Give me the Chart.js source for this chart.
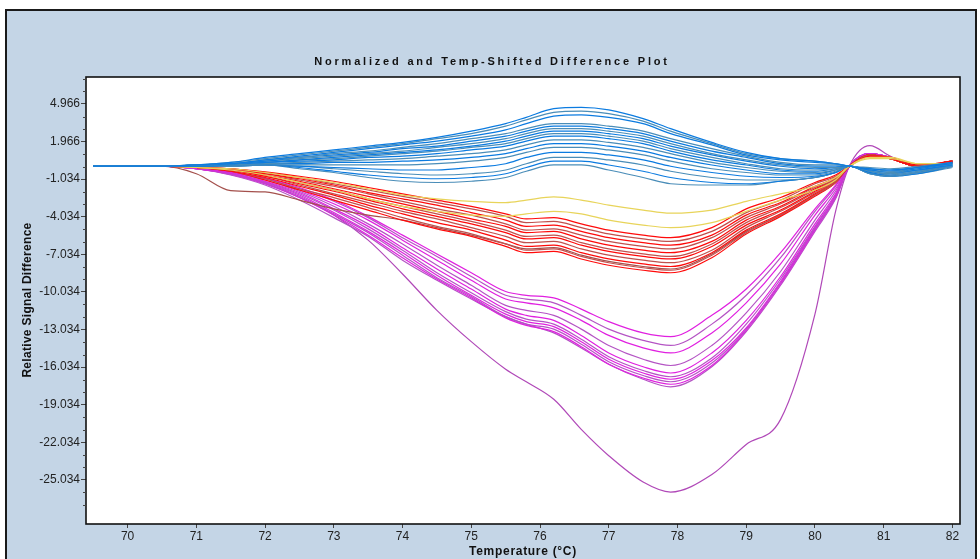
<!DOCTYPE html>
<html>
<head>
<meta charset="utf-8">
<script src="https://cdn.jsdelivr.net/npm/chart.js@4.4.1/dist/chart.umd.min.js"></script>
<style>
  html, body { margin: 0; padding: 0; width: 980px; height: 559px; overflow: hidden; background: #fff; }
  #frame { position: absolute; left: 5px; top: 9px; width: 968px; height: 600px;
           border: 2px solid #1a1a1a; background: #c4d5e6; }
  #plot { position: absolute; left: 0; top: 0; }
</style>
</head>
<body>
<div id="frame"></div>
<canvas id="plot" width="980" height="559"></canvas>
<script>
/* Normalized and Temp-Shifted Difference Plot (HRM difference curves). */

const TITLE = 'Normalized and Temp-Shifted Difference Plot';
const X_TITLE = 'Temperature (°C)';
const Y_TITLE = 'Relative Signal Difference';

const TEMPS = [69.5, 70, 70.5, 71, 71.5, 72, 72.5, 73, 73.5, 74, 74.5, 75, 75.5, 75.8, 76.2,
               76.6, 77, 77.5, 77.9, 78.5, 79, 79.5, 80, 80.3, 80.5, 80.8, 81.1, 81.5, 82];

const X_TICKS = [70, 71, 72, 73, 74, 75, 76, 77, 78, 79, 80, 81, 82];
const Y_TICKS = [4.966, 1.966, -1.034, -4.034, -7.034, -10.034, -13.034, -16.034, -19.034, -22.034, -25.034];
const Y_TICK_LABELS = ['4.966', '1.966', '-1.034', '-4.034', '-7.034', '-10.034', '-13.034',
                       '-16.034', '-19.034', '-22.034', '-25.034'];

/* blue cluster */
const blue1  = [0,0,0,0.1,0.3,0.7,1.0,1.3,1.6,1.9,2.3,2.8,3.4,3.9,4.6,4.7,4.5,3.8,3.0,1.9,1.1,0.6,0.4,0.2,0,-0.2,-0.3,-0.1,0.3];
const blue2  = [0,0,0,0.1,0.3,0.6,0.9,1.2,1.5,1.8,2.2,2.6,3.2,3.7,4.3,4.4,4.2,3.6,2.8,1.8,1.0,0.6,0.4,0.2,0,-0.1,-0.2,0,0.3];
const blue3  = [0,0,0,0.1,0.2,0.5,0.8,1.1,1.4,1.7,2.0,2.4,2.9,3.4,4.0,4.1,3.9,3.4,2.6,1.7,0.9,0.5,0.3,0.2,0,-0.2,-0.3,-0.1,0.2];
const blue4  = [0,0,0,0.1,0.2,0.5,0.7,1.0,1.2,1.5,1.8,2.2,2.6,3.0,3.4,3.4,3.2,2.8,2.2,1.4,0.8,0.3,0.1,0.1,0,-0.2,-0.4,-0.1,0.2];
const blue5  = [0,0,0,0.1,0.2,0.4,0.7,0.9,1.1,1.4,1.6,2.0,2.4,2.8,3.2,3.2,3.0,2.6,2.0,1.2,0.7,0.2,0.0,0.0,0,-0.3,-0.4,-0.2,0.2];
const blue6  = [0,0,0,0.1,0.2,0.4,0.6,0.8,1.0,1.2,1.5,1.8,2.2,2.6,3.0,3.0,2.8,2.4,1.8,1.0,0.5,0.1,-0.1,-0.1,0,-0.3,-0.5,-0.2,0.2];
const blue7  = [0,0,0,0.1,0.2,0.3,0.5,0.7,0.9,1.1,1.3,1.6,2.0,2.4,2.8,2.8,2.6,2.2,1.6,0.9,0.4,0.0,-0.2,-0.1,0,-0.3,-0.5,-0.3,0.1];
const blue8  = [0,0,0,0.1,0.1,0.3,0.5,0.6,0.8,1.0,1.2,1.5,1.8,2.2,2.6,2.6,2.4,2.0,1.4,0.7,0.2,-0.2,-0.3,-0.2,0,-0.4,-0.6,-0.3,0.1];
const blue9  = [0,0,0,0.0,0.1,0.3,0.4,0.5,0.7,0.8,1.0,1.3,1.6,2.0,2.4,2.4,2.2,1.8,1.2,0.5,0.1,-0.3,-0.4,-0.2,0,-0.4,-0.6,-0.3,0.1];
const blue10 = [0,0,0,0,0.1,0.2,0.3,0.4,0.5,0.6,0.8,1.0,1.3,1.7,2.1,2.1,1.9,1.5,1.0,0.3,-0.1,-0.4,-0.5,-0.3,0,-0.4,-0.7,-0.4,0.1];
const blue11 = [0,0,0,0,0.1,0.2,0.2,0.3,0.3,0.4,0.5,0.7,1.0,1.4,1.8,1.8,1.6,1.2,0.7,0.1,-0.3,-0.6,-0.6,-0.3,0,-0.5,-0.7,-0.4,0.1];
const blue12 = [0,0,0,0,0.1,0.1,0.1,0.1,0.1,0.1,0.2,0.4,0.7,1.1,1.5,1.5,1.3,0.9,0.4,-0.2,-0.5,-0.7,-0.7,-0.4,0,-0.5,-0.8,-0.5,0.0];
const blue13 = [0,0,0,0,0.1,0.1,0.0,-0.1,-0.2,-0.3,-0.3,-0.1,0.2,0.7,1.1,1.1,0.9,0.5,0.0,-0.5,-0.8,-0.9,-0.8,-0.5,0,-0.5,-0.8,-0.5,0.0];
const blue14 = [0,0,0,0,0,0.1,0.0,-0.2,-0.4,-0.6,-0.7,-0.6,-0.3,0.2,0.7,0.7,0.5,0.1,-0.4,-0.9,-1.1,-1.1,-0.9,-0.5,0,-0.6,-0.8,-0.5,0.0];
const blue15 = [0,0,0,0,0,0.1,-0.1,-0.4,-0.7,-0.9,-1.0,-0.9,-0.6,-0.1,0.4,0.4,0.1,-0.4,-0.9,-1.3,-1.4,-1.2,-0.9,-0.5,0,-0.6,-0.8,-0.6,0.0];
const blue16 = [0,0,0,0,0,0.1,-0.2,-0.5,-0.9,-1.2,-1.3,-1.2,-0.9,-0.4,0.1,0.1,-0.3,-0.9,-1.4,-1.5,-1.5,-1.2,-0.9,-0.5,0,-0.6,-0.8,-0.6,-0.1];

/* yellow pair */
const yellow1 = [0,0,0,-0.1,-0.2,-0.5,-0.9,-1.3,-1.8,-2.3,-2.6,-2.8,-2.9,-2.7,-2.45,-2.7,-3.1,-3.5,-3.75,-3.5,-2.8,-2.2,-1.6,-0.9,0,0.6,0.6,0.2,0.2];
const yellow2 = [0,0,0,-0.1,-0.3,-0.7,-1.3,-1.9,-2.6,-3.2,-3.6,-3.9,-4.0,-3.8,-3.6,-3.8,-4.3,-4.7,-4.9,-4.5,-3.6,-2.7,-1.9,-1.1,0,0.7,0.7,0.2,0.2];

/* red cluster */
const red1  = [0,0,0,-0.1,-0.2,-0.45,-0.8,-1.2,-1.7,-2.2,-2.7,-3.2,-3.8,-4.2,-4.1,-4.6,-5.1,-5.5,-5.7,-4.9,-3.4,-2.5,-1.3,-0.7,0,0.8,0.7,0.1,0.4];
const red2  = [0,0,0,-0.1,-0.2,-0.5,-0.9,-1.4,-1.9,-2.4,-2.9,-3.4,-4.0,-4.5,-4.4,-4.9,-5.4,-5.8,-6.0,-5.2,-3.7,-2.7,-1.4,-0.8,0,0.8,0.7,0.1,0.4];
const red3  = [0,0,0,-0.1,-0.2,-0.6,-1.0,-1.5,-2.1,-2.6,-3.1,-3.7,-4.3,-4.8,-4.7,-5.2,-5.7,-6.1,-6.3,-5.5,-3.9,-2.9,-1.6,-0.9,0,0.8,0.7,0.1,0.3];
const red4  = [0,0,0,-0.1,-0.3,-0.6,-1.1,-1.6,-2.2,-2.8,-3.4,-3.9,-4.6,-5.1,-5.0,-5.5,-6.0,-6.4,-6.6,-5.7,-4.1,-3.0,-1.7,-1.0,0,0.9,0.7,0.1,0.3];
const red5  = [0,0,0,-0.1,-0.3,-0.7,-1.2,-1.8,-2.4,-3.0,-3.6,-4.2,-4.8,-5.3,-5.2,-5.8,-6.3,-6.7,-6.9,-6.0,-4.3,-3.2,-1.8,-1.0,0,0.9,0.6,0.0,0.3];
const red6  = [0,0,0,-0.1,-0.3,-0.7,-1.3,-1.9,-2.6,-3.2,-3.8,-4.4,-5.1,-5.6,-5.5,-6.1,-6.6,-7.0,-7.2,-6.2,-4.5,-3.3,-1.9,-1.1,0,0.9,0.6,0.0,0.3];
const red7  = [0,0,0,-0.1,-0.3,-0.8,-1.4,-2.0,-2.7,-3.4,-4.0,-4.6,-5.3,-5.8,-5.7,-6.3,-6.8,-7.2,-7.4,-6.4,-4.7,-3.5,-2.0,-1.1,0,0.9,0.6,0.0,0.4];
const red8  = [0,0,0,-0.1,-0.3,-0.8,-1.5,-2.2,-2.9,-3.6,-4.2,-4.9,-5.6,-6.1,-6.0,-6.6,-7.1,-7.5,-7.7,-6.7,-4.9,-3.6,-2.1,-1.2,0,0.9,0.6,0.0,0.4];
const red9  = [0,0,0,-0.1,-0.4,-0.9,-1.6,-2.3,-3.1,-3.8,-4.5,-5.1,-5.9,-6.4,-6.3,-6.9,-7.4,-7.8,-8.0,-6.9,-5.1,-3.8,-2.2,-1.2,0,0.9,0.6,0.0,0.4];
const red10 = [0,0,0,-0.1,-0.4,-1.0,-1.8,-2.5,-3.3,-4.1,-4.8,-5.4,-6.2,-6.7,-6.6,-7.2,-7.7,-8.1,-8.3,-7.1,-5.3,-3.9,-2.3,-1.3,0,0.9,0.6,0.0,0.4];
const red11 = [0,0,0,-0.1,-0.4,-1.1,-1.9,-2.7,-3.5,-4.3,-5.0,-5.6,-6.4,-6.9,-6.8,-7.4,-7.9,-8.3,-8.5,-7.3,-5.4,-4.0,-2.4,-1.3,0,0.9,0.6,0.0,0.4];
const redEarly = [0,0,0,-0.6,-1.95,-2.05,-2.7,-3.4,-3.9,-4.3,-4.9,-5.5,-6.2,-6.6,-6.5,-7.1,-7.6,-8.0,-8.2,-7.0,-5.2,-3.9,-2.3,-1.3,0,0.9,0.6,0.0,0.4];

/* magenta cluster */
const mag1  = [0,0,0,-0.15,-0.45,-0.95,-1.7,-2.7,-4.0,-5.5,-7.0,-8.5,-10.0,-10.3,-10.5,-11.4,-12.4,-13.3,-13.6,-11.9,-9.8,-6.9,-3.4,-1.5,0,1.0,0.7,0.1,0.3];
const mag2  = [0,0,0,-0.15,-0.45,-1.0,-1.8,-2.8,-4.1,-5.7,-7.2,-8.8,-10.3,-10.6,-10.9,-11.9,-13.0,-13.9,-14.3,-12.6,-10.3,-7.3,-3.6,-1.6,0,1.0,0.7,0.1,0.3];
const mag3  = [0,0,0,-0.15,-0.5,-1.0,-1.9,-3.0,-4.3,-5.9,-7.5,-9.1,-10.6,-10.9,-11.3,-12.3,-13.5,-14.5,-14.9,-13.3,-10.9,-7.8,-3.9,-1.8,0,1.0,0.7,0.1,0.3];
const mag4  = [0,0,0,-0.15,-0.5,-1.1,-2.0,-3.2,-4.6,-6.2,-7.9,-9.5,-11.1,-11.5,-11.9,-13.0,-14.3,-15.4,-15.9,-14.3,-11.7,-8.4,-4.3,-2.0,0,1.0,0.7,0.1,0.3];
const mag5  = [0,0,0,-0.2,-0.55,-1.2,-2.1,-3.4,-4.8,-6.5,-8.2,-9.8,-11.4,-11.9,-12.3,-13.5,-14.9,-16.0,-16.5,-14.9,-12.3,-8.8,-4.6,-2.2,0,1.0,0.7,0.1,0.3];
const mag6  = [0,0,0,-0.2,-0.6,-1.25,-2.2,-3.5,-5.0,-6.7,-8.5,-10.1,-11.6,-12.2,-12.6,-13.8,-15.2,-16.3,-16.8,-15.3,-12.6,-9.0,-4.8,-2.3,0,1.0,0.7,0.1,0.3];
const mag7  = [0,0,0,-0.2,-0.6,-1.3,-2.3,-3.7,-5.2,-6.9,-8.7,-10.3,-11.8,-12.4,-12.8,-14.0,-15.4,-16.5,-17.0,-15.5,-12.9,-9.2,-4.9,-2.4,0,1.0,0.7,0.1,0.3];
const mag8  = [0,0,0,-0.2,-0.65,-1.35,-2.4,-3.8,-5.3,-7.1,-8.9,-10.4,-12.0,-12.6,-13.0,-14.2,-15.6,-16.7,-17.2,-15.7,-13.0,-9.3,-5.0,-2.5,0,1.0,0.7,0.1,0.3];
const mag9  = [0,0,0,-0.2,-0.65,-1.4,-2.5,-3.9,-5.5,-7.3,-9.0,-10.5,-12.1,-12.7,-13.2,-14.4,-15.8,-16.9,-17.4,-15.9,-13.1,-9.4,-5.1,-2.5,0,1.0,0.7,0.1,0.3];
const mag10 = [0,0,0,-0.2,-0.7,-1.5,-2.7,-4.1,-5.6,-7.5,-9.1,-10.6,-12.0,-12.6,-13.3,-14.5,-15.8,-17.0,-17.6,-16.0,-13.2,-9.5,-5.2,-2.6,0,1.0,0.7,0.1,0.3];
const magLow = [0,0,0,-0.2,-0.6,-1.4,-2.5,-3.9,-5.9,-8.6,-11.5,-14.0,-16.2,-17.2,-18.6,-21.0,-23.1,-25.2,-26.0,-24.6,-22.2,-20.2,-11.8,-3.6,0,1.65,0.8,0.1,0.3];

const BLUE = ['#0b7be0', '#4a8db8'];
const RED = ['#ff0a0a', '#c0504d'];
const MAGENTA = ['#e020e0', '#b454c4'];

const groups = [
  { lines: [blue1, blue2, blue3, blue4, blue5, blue6, blue7, blue8, blue9, blue10, blue11, blue12, blue13, blue14, blue15, blue16], colors: BLUE },
  { lines: [yellow1, yellow2], colors: ['#e8d45a'] },
  { lines: [red1, red2, red3, red4, red5, red6, red7, red8, red9, red10, red11], colors: RED },
  { lines: [redEarly], colors: ['#a4504c'] },
  { lines: [mag1, mag2, mag3, mag4, mag5, mag6, mag7, mag8, mag9, mag10], colors: MAGENTA },
  { lines: [magLow], colors: ['#b048b8'] },
];

const datasets = [];
groups.forEach(g => g.lines.forEach((vals, i) => {
  datasets.push({
    data: vals.map((v, k) => ({ x: TEMPS[k], y: v })),
    borderColor: g.colors[i % g.colors.length],
    borderWidth: 1.2,
    pointRadius: 0,
    cubicInterpolationMode: 'monotone',
    fill: false,
  });
}));

/* white plot area, black frame, minor y ticks and the spaced-out titles */
const plotFrame = {
  id: 'plotFrame',
  beforeDraw(chart) {
    const { ctx, chartArea: a } = chart;
    ctx.save();
    ctx.fillStyle = '#fff';
    ctx.fillRect(a.left, a.top, a.right - a.left, a.bottom - a.top);
    ctx.restore();
  },
  afterDraw(chart) {
    const { ctx, chartArea: a, scales: { y } } = chart;
    ctx.save();
    ctx.strokeStyle = '#111';
    ctx.lineWidth = 1.6;
    ctx.strokeRect(a.left, a.top, a.right - a.left, a.bottom - a.top);
    ctx.lineWidth = 1;
    ctx.strokeStyle = '#444';
    ctx.beginPath();
    Y_TICKS.forEach(v => [-2, -1, 1, 2].forEach(d => {
      const val = v + d;
      if (val > y.max || val < y.min) return;
      const py = Math.round(y.getPixelForValue(val)) + 0.5;
      ctx.moveTo(a.left - 3, py);
      ctx.lineTo(a.left, py);
    }));
    ctx.stroke();

    ctx.fillStyle = '#111';
    ctx.textAlign = 'center';
    ctx.textBaseline = 'middle';
    ctx.font = 'bold 11px "Liberation Sans", Arial, sans-serif';
    ctx.letterSpacing = '2.8px';
    ctx.fillText(TITLE, 492, 62);
    ctx.font = 'bold 12px "Liberation Sans", Arial, sans-serif';
    ctx.letterSpacing = '0.7px';
    ctx.fillText(X_TITLE, (a.left + a.right) / 2, 552);
    ctx.letterSpacing = '0.3px';
    ctx.translate(28, 300);
    ctx.rotate(-Math.PI / 2);
    ctx.fillText(Y_TITLE, 0, 0);
    ctx.restore();
  },
};

Chart.defaults.font.family = '"Liberation Sans", Arial, sans-serif';
Chart.defaults.color = '#222';

new Chart(document.getElementById('plot'), {
  type: 'line',
  data: { datasets },
  options: {
    responsive: false,
    animation: false,
    devicePixelRatio: 1,
    layout: { padding: { left: 0, right: 20, top: 77, bottom: 0 } },
    plugins: {
      legend: { display: false },
      tooltip: { enabled: false },
      title: { display: false },
    },
    scales: {
      x: {
        type: 'linear',
        min: 69.395,
        max: 82.11,
        afterBuildTicks: (s) => { s.ticks = X_TICKS.map(v => ({ value: v })); },
        afterFit: (s) => { s.height = 35; },
        ticks: { autoSkip: false, maxRotation: 0, padding: 1, font: { size: 12 }, color: '#222' },
        grid: { display: true, drawOnChartArea: false, drawTicks: true, tickLength: 4, color: '#444' },
        border: { display: false },
      },
      y: {
        type: 'linear',
        min: -28.55,
        max: 7.12,
        afterBuildTicks: (s) => { s.ticks = Y_TICKS.map(v => ({ value: v })); },
        afterFit: (s) => { s.width = 86; },
        ticks: {
          autoSkip: false,
          padding: 1,
          font: { size: 12 },
          color: '#222',
          callback: (v) => Y_TICK_LABELS[Y_TICKS.indexOf(v)],
        },
        grid: { display: true, drawOnChartArea: false, drawTicks: true, tickLength: 5, color: '#444' },
        border: { display: false },
      },
    },
  },
  plugins: [plotFrame],
});
</script>
</body>
</html>
